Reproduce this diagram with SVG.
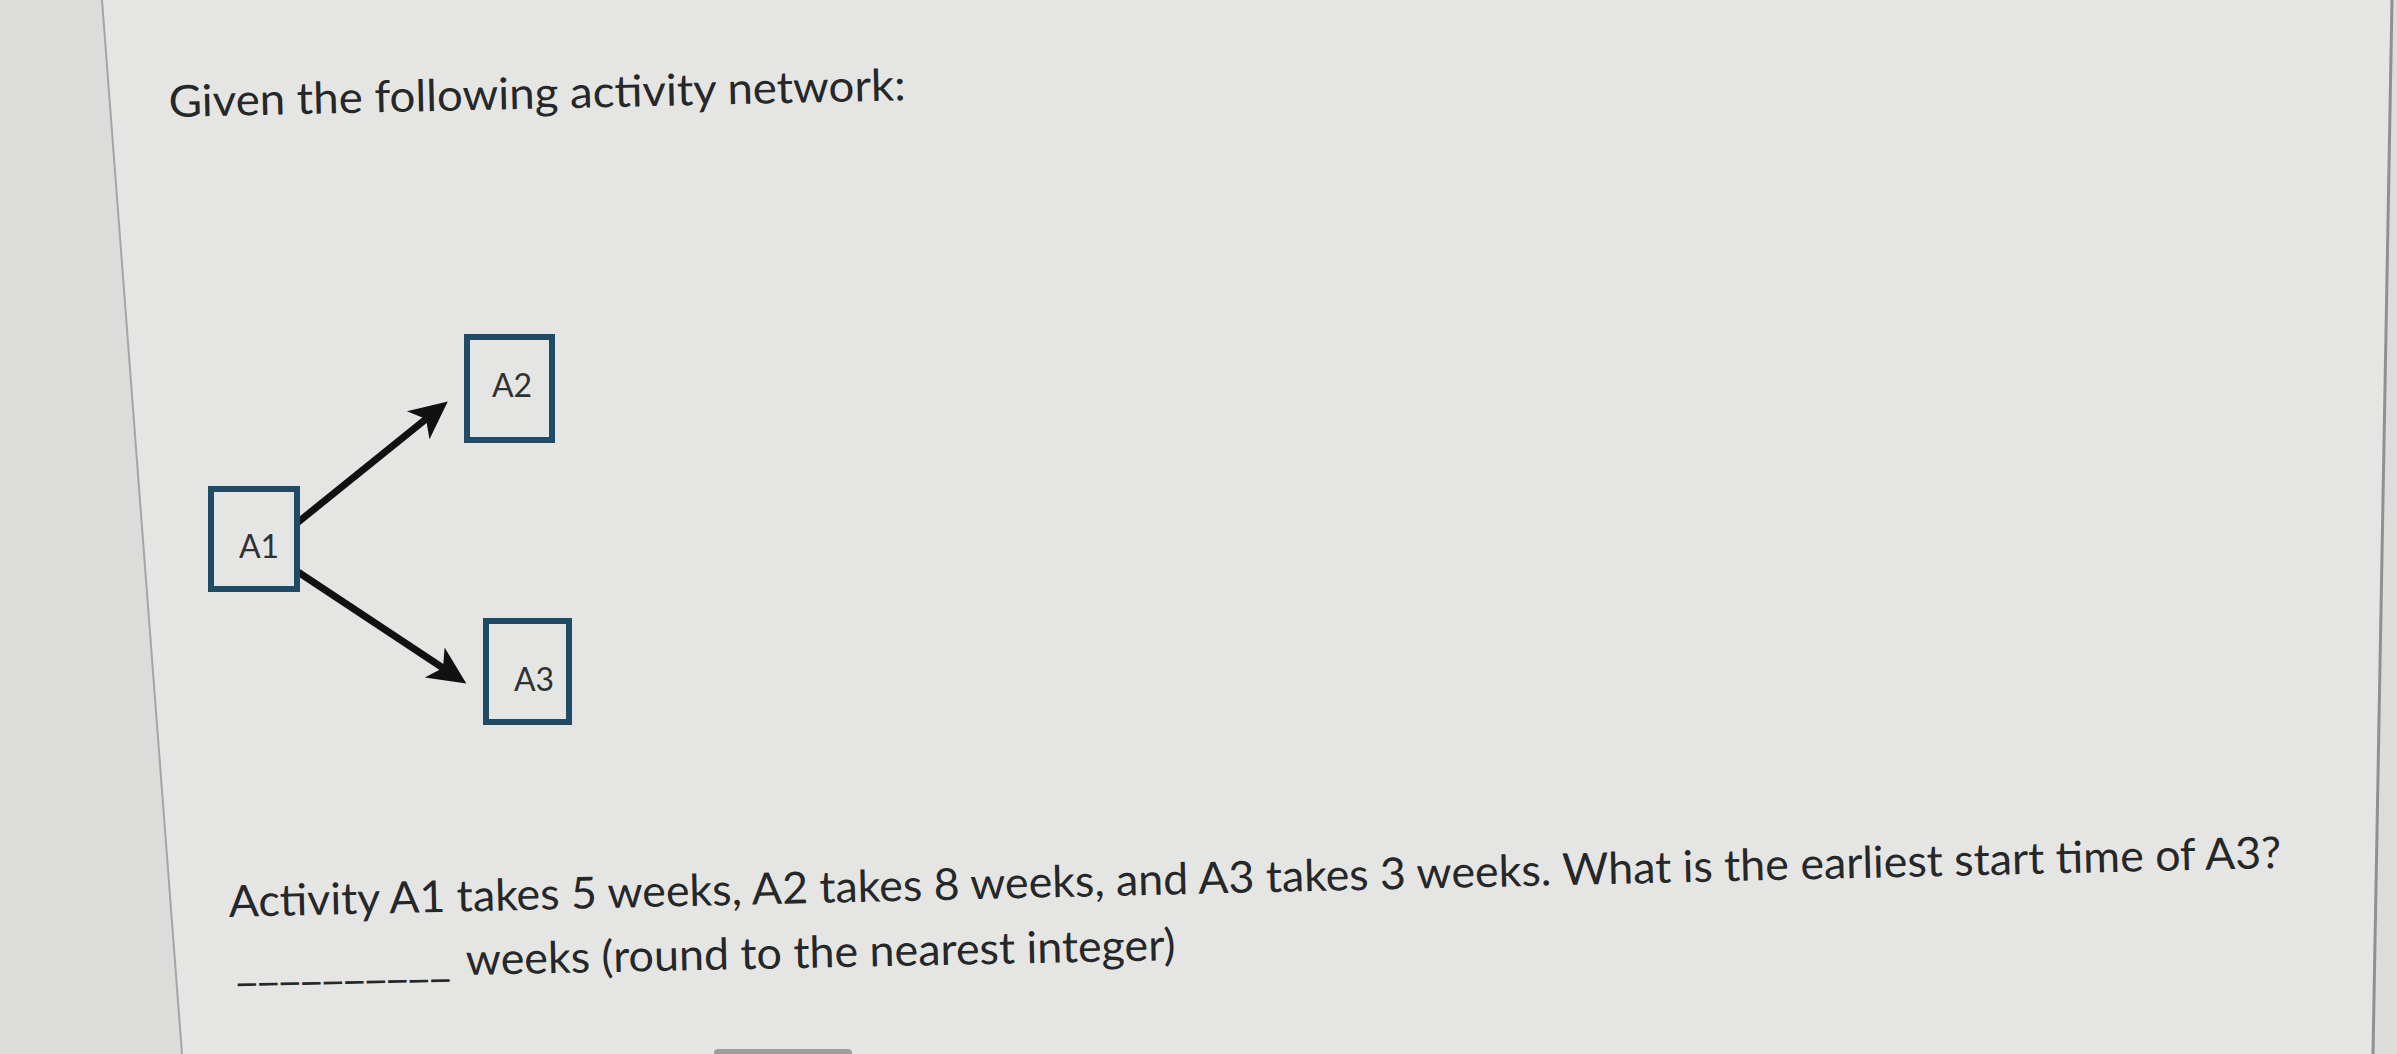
<svg xmlns="http://www.w3.org/2000/svg" width="2397" height="1054" viewBox="0 0 2397 1054">
<style>
.txt{font-family:Lato,"Open Sans","Liberation Sans",sans-serif;fill:#262728;}
.q{font-size:44px;}
.box{fill:none;stroke:#1f4b66;stroke-width:6;}
.lbl{font-family:Lato,"Open Sans","Liberation Sans",sans-serif;font-size:32px;fill:#303132;text-anchor:middle;}
.edge{stroke:#111;stroke-width:7;fill:none;}
</style>
<defs>
<marker id="ah" markerUnits="userSpaceOnUse" markerWidth="44" markerHeight="44" viewBox="0 -22 44 44" refX="10" refY="0" orient="auto" overflow="visible">
<path d="M38 0 L0 -18 L10 0 L0 18 Z" fill="#111"/>
</marker>
</defs>
<g id="background">
<rect x="0" y="0" width="2397" height="1054" fill="#dcdddb"/>
<polygon points="102,0 2392,0 2373,1054 182,1054" fill="#e5e6e4"/>
<line x1="102" y1="0" x2="182" y2="1054" stroke="#a3a6a6" stroke-width="2"/>
<line x1="2392" y1="0" x2="2373" y2="1054" stroke="#8e9192" stroke-width="3"/>
<rect x="714" y="1049" width="138" height="12" rx="4" fill="#9c9d9d"/>
</g>
<g id="title">
<text class="txt q" x="169" y="117" textLength="737" lengthAdjust="spacingAndGlyphs" transform="rotate(-1.3 169 117)">Given the following activity network:</text>
</g>
<g id="connectors">
<line class="edge" x1="297" y1="523" x2="426" y2="419" marker-end="url(#ah)"/>
<line class="edge" x1="298" y1="572" x2="443" y2="668" marker-end="url(#ah)"/>
</g>
<g id="A1">
<rect class="box" x="211" y="489" width="86" height="100"/>
<text class="lbl" x="259" y="558">A1</text>
</g>
<g id="A2">
<rect class="box" x="467" y="337" width="85" height="103"/>
<text class="lbl" x="512" y="397">A2</text>
</g>
<g id="A3">
<rect class="box" x="486" y="621" width="83" height="101"/>
<text class="lbl" x="534" y="691">A3</text>
</g>
<g id="question">
<text class="txt q" x="229" y="917" textLength="2053" lengthAdjust="spacingAndGlyphs" transform="rotate(-1.37 229 917)">Activity A1 takes 5 weeks, A2 takes 8 weeks, and A3 takes 3 weeks. What is the earliest start time of A3?</text>
<text class="txt q" x="236" y="980" textLength="215" lengthAdjust="spacingAndGlyphs" transform="rotate(-1.2 236 980)">__________</text>
<text class="txt q" x="466" y="975" textLength="710" lengthAdjust="spacingAndGlyphs" transform="rotate(-1.2 466 975)">weeks (round to the nearest integer)</text>
</g>
</svg>
